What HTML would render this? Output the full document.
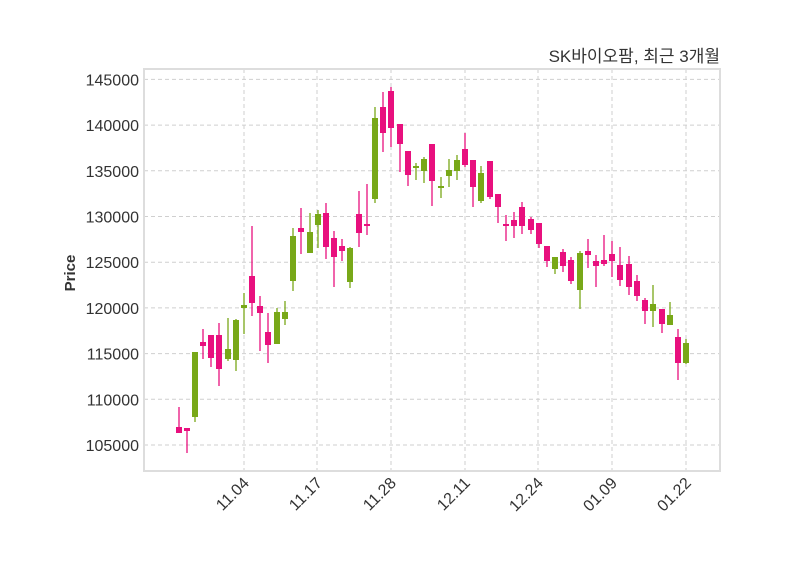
<!DOCTYPE html>
<html><head><meta charset="utf-8"><style>
html,body{margin:0;padding:0;background:#fff;}
svg{display:block;font-family:"Liberation Sans","Noto Sans CJK KR",sans-serif;}
</style></head><body>
<svg id="s" width="800" height="575" xmlns="http://www.w3.org/2000/svg">
<rect x="0" y="0" width="800" height="575" fill="#fff"/>
<g id="grid" stroke="#cfcfcf" stroke-width="1" stroke-dasharray="4,3"></g>
<g id="c"></g>
<rect x="144" y="69" width="576" height="402" fill="none" stroke="#dddddd" stroke-width="2"/>
<g id="lab" font-size="16" fill="#333"></g>
<text x="720" y="62" text-anchor="end" font-size="17" fill="#333">SK바이오팜, 최근 3개월</text>
<text transform="translate(75,273) rotate(-90)" text-anchor="middle" font-size="15" font-weight="bold" fill="#333">Price</text>
</svg>
<script>
var NS="http://www.w3.org/2000/svg";
function el(p,t,a,txt){var e=document.createElementNS(NS,t);for(var k in a)e.setAttribute(k,a[k]);if(txt)e.textContent=txt;p.appendChild(e);return e;}
var g=document.getElementById('grid'),lab=document.getElementById('lab'),c=document.getElementById('c');
var ys=[145000,140000,135000,130000,125000,120000,115000,110000,105000];
ys.forEach(function(v){var y=445-(v-105000)/5000*45.7;el(g,'line',{x1:144,x2:720,y1:y,y2:y});el(lab,'text',{x:139,y:y+6,'text-anchor':'end'},String(v));});
var xs=[[244,'11.04'],[317,'11.17'],[391,'11.28'],[465,'12.11'],[538,'12.24'],[612,'01.09'],[686,'01.22']];
xs.forEach(function(d){el(g,'line',{x1:d[0],x2:d[0],y1:69,y2:471});el(lab,'text',{x:d[0]+6,y:484,'text-anchor':'end',transform:'rotate(-45 '+(d[0]+6)+' 484)'},d[1]);});
var C=[[179,407,433,427,433,'p'],[187,428,453,428,431,'p'],[195,352,422,352,417,'g'],[203,329,359,342,346,'p'],[211,335,367,335,358,'p'],[219,323,386,335,369,'p'],[228,318,361,349,359,'g'],[236,319,371,320,360,'g'],[244,293,334,305,308,'g'],[252,226,316,276,303,'p'],[260,296,351,306,313,'p'],[268,313,363,332,345,'p'],[277,308,344,312,344,'g'],[285,301,325,312,319,'g'],[293,228,291,236,281,'g'],[301,208,254,228,232,'p'],[310,213,253,232,253,'g'],[318,210,248,214,225,'g'],[326,203,259,213,247,'p'],[334,231,287,238,257,'p'],[342,239,261,246,251,'p'],[350,247,288,248,282,'g'],[359,191,247,214,233,'p'],[367,184,235,224,226,'p'],[375,107,203,118,199,'g'],[383,92,152,107,133,'p'],[391,87,147,91,128,'p'],[400,124,172,124,144,'p'],[408,151,186,151,175,'p'],[416,163,180,166,167,'g'],[424,157,183,159,171,'g'],[432,144,206,144,181,'p'],[441,177,198,186,188,'g'],[449,159,187,170,176,'g'],[457,155,180,160,171,'g'],[465,133,167,149,165,'p'],[473,160,207,160,187,'p'],[481,166,203,173,201,'g'],[490,161,199,161,197,'p'],[498,194,223,194,207,'p'],[506,215,241,224,226,'p'],[514,212,238,220,226,'p'],[522,202,234,207,226,'p'],[531,217,234,219,230,'p'],[539,223,248,223,244,'p'],[547,246,267,246,261,'p'],[555,257,274,257,269,'g'],[563,249,272,252,266,'p'],[571,257,284,260,281,'p'],[580,251,309,253,290,'g'],[588,239,268,251,255,'p'],[596,255,287,261,266,'p'],[604,235,266,260,264,'p'],[612,241,277,254,261,'p'],[620,247,286,265,280,'p'],[629,256,295,264,287,'p'],[637,275,301,281,296,'p'],[645,298,324,300,311,'p'],[653,285,327,304,311,'g'],[662,309,333,309,324,'p'],[670,302,325,315,325,'g'],[678,329,380,337,363,'p'],[686,339,364,343,363,'g']];
C.forEach(function(k){var col=k[5]=='p'?'#e8107e':'#78a818';
el(c,'line',{x1:k[0],x2:k[0],y1:k[1],y2:k[2],stroke:col,'stroke-width':1.3});
var h=Math.max(k[4]-k[3],2);el(c,'rect',{x:k[0]-3,y:k[3],width:6,height:h,fill:col});});
</script>
</body></html>
